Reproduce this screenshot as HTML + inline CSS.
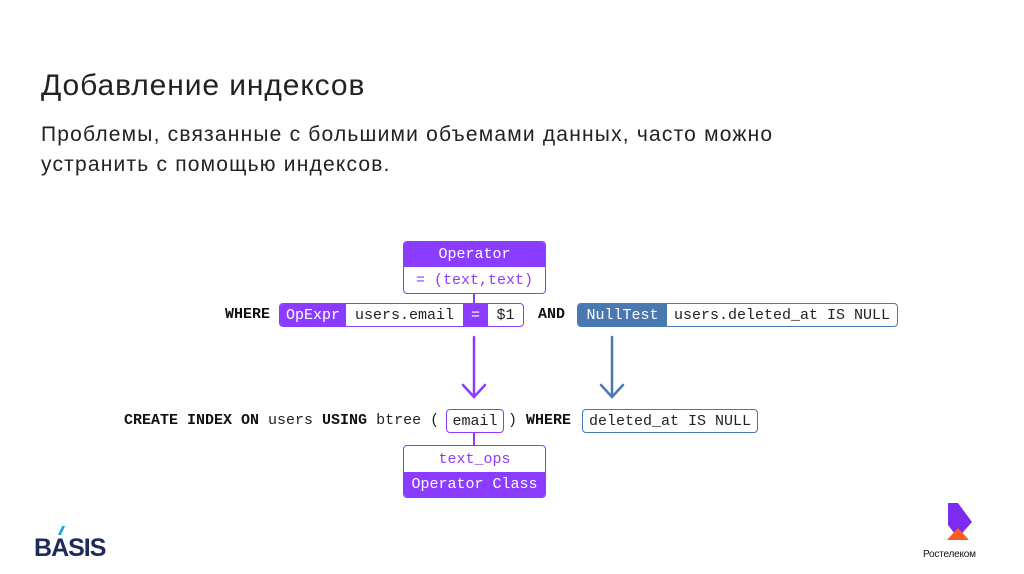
<!DOCTYPE html>
<html><head><meta charset="utf-8"><style>
body{margin:0;width:1024px;height:574px;background:#fff;position:relative;overflow:hidden;font-family:"Liberation Sans",sans-serif}
.a{position:absolute}
.m{font-family:"Liberation Mono",monospace;font-size:15px;white-space:nowrap}
.b{font-weight:bold;color:#111}
.c{display:flex;align-items:center;justify-content:center;box-sizing:border-box}
</style></head><body>
<div class="a" style="left:41px;top:69px;font-size:30px;color:#222;letter-spacing:0.9px">Добавление индексов</div>
<div class="a" style="left:41px;top:120px;font-size:21px;line-height:30px;color:#222;letter-spacing:1.2px;white-space:nowrap">Проблемы, связанные с большими объемами данных, часто можно<br>устранить с помощью индексов.</div>

<div class="a" style="left:403px;top:241px;width:143px;height:53px;border:1.5px solid #8b3dff;border-radius:4px;box-sizing:border-box;overflow:hidden">
<div class="c m" style="height:25px;background:#8b3dff;color:#fff">Operator</div>
<div class="c m" style="height:26px;color:#8b3dff">= (text,text)</div>
</div>
<div class="a" style="left:473px;top:294px;width:1.5px;height:9px;background:#8b3dff"></div>

<div class="a m b" style="left:225px;top:306px">WHERE</div>
<div class="a" style="left:279px;top:303px;width:245px;height:24px;border:1.5px solid #8b3dff;border-radius:4px;box-sizing:border-box;overflow:hidden;display:flex">
<div class="c m" style="width:66px;background:#8b3dff;color:#fff">OpExpr</div>
<div class="c m" style="width:117px;color:#222">users.email</div>
<div class="c m" style="width:25px;background:#8b3dff;color:#fff">=</div>
<div class="c m" style="flex:1;color:#222">$1</div>
</div>
<div class="a m b" style="left:538px;top:306px">AND</div>
<div class="a" style="left:577px;top:303px;width:321px;height:24px;border:1.5px solid #4a78b0;border-radius:4px;box-sizing:border-box;overflow:hidden;display:flex">
<div class="c m" style="width:89px;background:#4a78b0;color:#fff">NullTest</div>
<div class="c m" style="flex:1;color:#222">users.deleted_at IS NULL</div>
</div>

<svg class="a" style="left:0;top:0" width="1024" height="574">
<g fill="none" stroke-width="2.5" stroke-linecap="round">
<path d="M474 337V396M463 385L474 397L485 385" stroke="#8b3dff"/>
<path d="M612 337V396M601 385L612 397L623 385" stroke="#4a78b0"/>
</g>
<polygon points="948,503 958,503 972,522 958,538 948,525" fill="#7b2cf0"/>
<polygon points="947,540 958,528 969,540" fill="#ff5a1f"/>
</svg>

<div class="a m" style="left:124px;top:412px;color:#222"><span class="b">CREATE INDEX ON</span> users <span class="b">USING</span> btree (</div>
<div class="a c m" style="left:446px;top:409px;width:58px;height:24px;border:1.5px solid #8b3dff;border-radius:4px;color:#222">email</div>
<div class="a m" style="left:508px;top:412px;color:#222">) <span class="b">WHERE</span></div>
<div class="a c m" style="left:582px;top:409px;width:176px;height:24px;border:1.5px solid #4a78b0;border-radius:4px;color:#222">deleted_at IS NULL</div>
<div class="a" style="left:473px;top:433px;width:1.5px;height:12px;background:#8b3dff"></div>
<div class="a" style="left:403px;top:445px;width:143px;height:53px;border:1.5px solid #8b3dff;border-radius:4px;box-sizing:border-box;overflow:hidden">
<div class="c m" style="height:26px;color:#8b3dff">text_ops</div>
<div class="c m" style="height:25px;background:#8b3dff;color:#fff">Operator Class</div>
</div>

<div class="a" style="left:34px;top:534px;font-size:25px;font-weight:bold;color:#1e2a5a;letter-spacing:-1px">B<span style="position:relative">A<span class="a" style="left:9px;top:-8px;width:3px;height:9px;background:#1fa3e0;transform:skewX(-25deg)"></span></span>SIS</div>
<div class="a" style="left:923px;top:549px;font-size:10px;color:#111;letter-spacing:-0.2px">Ростелеком</div>
</body></html>
